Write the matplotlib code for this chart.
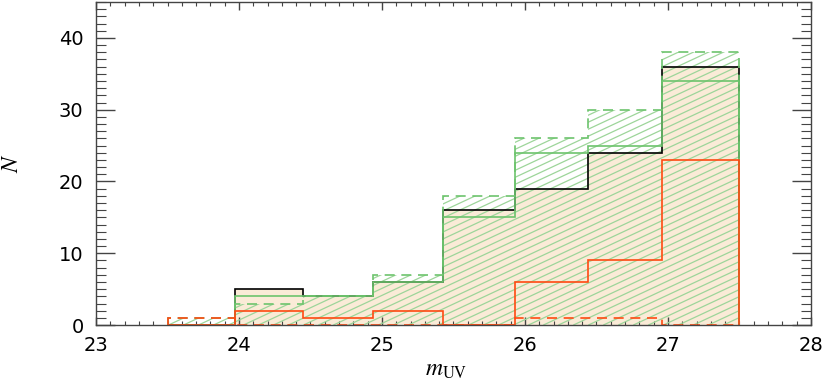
import numpy as np
import matplotlib
matplotlib.use("Agg")
import matplotlib.pyplot as plt
from matplotlib.collections import LineCollection
from matplotlib.ticker import MultipleLocator

# bin edges in m_UV and counts per bin
edges = [23.5, 23.97, 24.45, 24.94, 25.43, 25.93, 26.44, 26.96, 27.5]
n_total = [0, 5, 4, 6, 16, 19, 24, 36]
n_green = [0, 4, 4, 6, 15, 24, 25, 34]
n_green_dash = [1, 3, 4, 7, 18, 26, 30, 38]
n_red = [0, 2, 1, 2, 0, 6, 9, 23]
n_red_dash = [1, 0, 0, 0, 0, 1, 1, 0]

beige = "#FAEBD7"
green = "#6DC46D"
hatch_green = "#9DD59A"
red = "#FF4A12"

plt.rcParams["font.family"] = ["DejaVu Sans"]
plt.rcParams["mathtext.fontset"] = "stix"

fig = plt.figure(figsize=(8.3, 3.82), dpi=100)
ax = fig.add_axes([0.1157, 0.149, 0.8613, 0.8458])

# beige fill of the total histogram
ax.stairs(n_total, edges, fill=True, color=beige, zorder=1)

# slanted hatching, clipped to the dashed green histogram
clip = ax.stairs(n_green_dash, edges, fill=True, facecolor="none",
                 edgecolor="none", zorder=2)
ang = np.deg2rad(25)
w_px, h_px = 715.0, 323.0
dx = h_px / np.tan(ang) / w_px
step = 15.0 / w_px
segs = [[(x0, 0), (x0 + dx, 1)] for x0 in np.arange(-dx, 1, step)]
lc = LineCollection(segs, colors=hatch_green, linewidths=0.9,
                    transform=ax.transAxes, zorder=2)
ax.add_collection(lc)
lc.set_clip_path(clip)

dash = (0, (6, 4))
ax.stairs(n_total, edges, color="black", lw=1.2, zorder=3)
ax.stairs(n_green, edges, color=green, lw=1.2, zorder=4)
ax.stairs(n_green_dash, edges, color=green, lw=1.2, ls=dash, zorder=4)
ax.stairs(n_red, edges, color=red, lw=1.2, zorder=5, clip_on=False)
ax.stairs(n_red_dash, edges, color=red, lw=1.2, ls=dash, zorder=5,
          clip_on=False)

ax.set_xlim(23, 28)
ax.set_ylim(0, 45)
ax.xaxis.set_major_locator(MultipleLocator(1))
ax.xaxis.set_minor_locator(MultipleLocator(0.1))
ax.yaxis.set_major_locator(MultipleLocator(10))
ax.yaxis.set_minor_locator(MultipleLocator(1))

ax.tick_params(which="both", direction="in", top=True, right=True,
               color="#444444", labelsize=14)
ax.tick_params(axis="x", which="major", length=6, width=1, pad=8)
ax.tick_params(axis="x", which="minor", length=3, width=0.8)
ax.tick_params(axis="y", which="major", length=14, width=1, pad=9)
ax.tick_params(axis="y", which="minor", length=7, width=0.8)
for s in ax.spines.values():
    s.set_color("#444444")
    s.set_linewidth(1)
    s.set_zorder(6)

ax.set_xlabel(r"$m_{\rm UV}$", fontsize=17)
ax.set_ylabel(r"$N$", fontsize=17)
ax.xaxis.set_label_coords(0.49, -0.1)
ax.yaxis.set_label_coords(-0.102, 0.5)

fig.savefig("out.png", dpi=100)
